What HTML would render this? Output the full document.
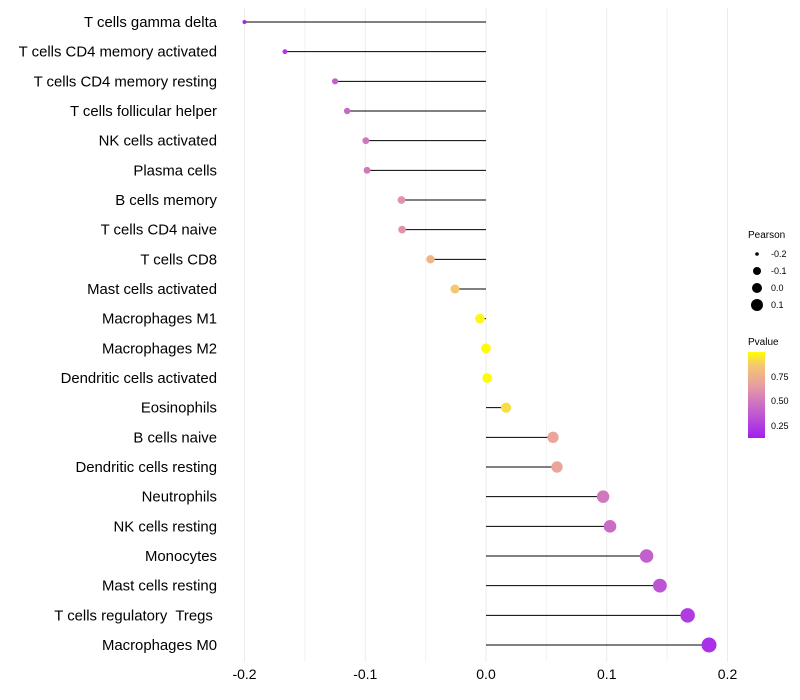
<!DOCTYPE html>
<html><head><meta charset="utf-8"><style>
body{margin:0;background:#fff;font-family:"Liberation Sans",sans-serif;}
svg{display:block}
#ylabels text{white-space:pre}
</style></head><body>
<svg id="chart" width="800" height="700" xmlns="http://www.w3.org/2000/svg">
<defs><linearGradient id="pg" x1="0" y1="1" x2="0" y2="0">
<stop offset="0" stop-color="#A020F0"/><stop offset="0.35" stop-color="#C868C8"/><stop offset="0.62" stop-color="#E8A0A0"/><stop offset="0.85" stop-color="#F5C870"/><stop offset="1" stop-color="#FFFF00"/>
</linearGradient></defs>
<g id="grid"></g><g id="marks"></g><g id="ylabels"></g><g id="xlabels"></g>
<g id="legend" font-size="9">
<text x="748" y="238" font-size="10">Pearson</text>
<circle cx="757" cy="254" r="1.8" fill="#000"/><text x="771" y="257">-0.2</text>
<circle cx="757" cy="271" r="4" fill="#000"/><text x="771" y="274">-0.1</text>
<circle cx="757" cy="288" r="5" fill="#000"/><text x="771" y="291">0.0</text>
<circle cx="757" cy="305" r="6" fill="#000"/><text x="771" y="308">0.1</text>
<text x="748" y="345" font-size="10">Pvalue</text>
<rect x="748" y="352" width="17" height="86" fill="url(#pg)"/>
<text x="771" y="380">0.75</text><text x="771" y="404">0.50</text><text x="771" y="429">0.25</text>
</g>
</svg>
<script>
const categories=["T cells gamma delta","T cells CD4 memory activated","T cells CD4 memory resting","T cells follicular helper","NK cells activated","Plasma cells","B cells memory","T cells CD4 naive","T cells CD8","Mast cells activated","Macrophages M1","Macrophages M2","Dendritic cells activated","Eosinophils","B cells naive","Dendritic cells resting","Neutrophils","NK cells resting","Monocytes","Mast cells resting","T cells regulatory  Tregs ","Macrophages M0"];
const pearson=[-0.200,-0.1665,-0.125,-0.115,-0.0995,-0.0985,-0.070,-0.0695,-0.046,-0.0257,-0.005,0.000,0.001,0.0166,0.0555,0.0588,0.097,0.1027,0.133,0.144,0.167,0.1847];
const pvalue=[0.15,0.25,0.40,0.44,0.50,0.50,0.62,0.62,0.78,0.87,0.98,0.99,0.99,0.92,0.70,0.70,0.50,0.45,0.40,0.35,0.25,0.20];
const xTicks=[-0.2,-0.1,0.0,0.1,0.2];
const xTickLabels=["-0.2","-0.1","0.0","0.1","0.2"];
const minorTicks=[-0.15,-0.05,0.05,0.15];
const NS="http://www.w3.org/2000/svg";
const xS=v=>486+v*1207.5;
const yS=i=>22+i*(623/(categories.length-1));
const rS=v=>2+(v+0.2)/0.385*5.5;
const stops=[[0,[160,32,240]],[0.35,[200,104,200]],[0.62,[232,160,160]],[0.85,[245,200,112]],[1,[255,255,0]]];
function col(p){let t=(p-0.13)/(1.0-0.13);t=Math.max(0,Math.min(1,t));
for(let k=1;k<stops.length;k++){if(t<=stops[k][0]){const a=stops[k-1],b=stops[k];const f=(t-a[0])/(b[0]-a[0]);
return "rgb("+a[1].map((c,j)=>Math.round(c+(b[1][j]-c)*f)).join(",")+")";}}return "rgb(255,255,0)";}
function mk(tag,at,parent){const e=document.createElementNS(NS,tag);for(const k in at)e.setAttribute(k,at[k]);document.getElementById(parent).appendChild(e);return e;}
minorTicks.forEach(t=>{
 const g=mk("line",{x1:xS(t),x2:xS(t),y1:8,y2:662,stroke:"#f2f2f2","stroke-width":1},"grid");
 
 
});
xTicks.forEach((t,i)=>{
 const g=mk("line",{x1:xS(t),x2:xS(t),y1:8,y2:662,stroke:"#ebebeb","stroke-width":1},"grid");
 
 
 const tx=mk("text",{x:xS(t),y:679,"text-anchor":"middle","font-size":14,fill:"#000"},"xlabels");
 tx.textContent=xTickLabels[i];
 
 
});
categories.forEach((c,i)=>{
 const y=yS(i);
 const l=mk("line",{x1:xS(0),x2:xS(pearson[i]),y1:y,y2:y,stroke:"#000","stroke-width":1},"marks");
 
 
 const p=mk("circle",{cx:xS(pearson[i]),cy:y,r:rS(pearson[i]),fill:col(pvalue[i])},"marks");
 
 
 const t=mk("text",{x:217,y:y+5,"text-anchor":"end","font-size":14.9,fill:"#000"},"ylabels");
 t.textContent=c;
 
 
});
</script>
</body></html>
